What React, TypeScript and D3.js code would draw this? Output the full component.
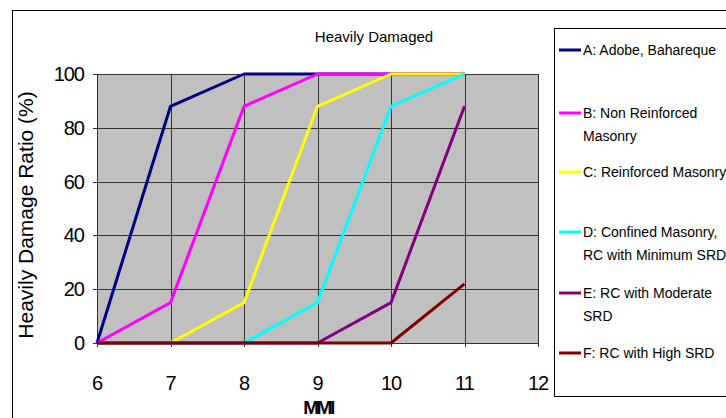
import React, { useEffect, useRef } from 'react';
import * as d3 from 'd3';

const W = 726;
const H = 418;

const mmi = [6, 7, 8, 9, 10, 11];
const xTicks = [6, 7, 8, 9, 10, 11, 12];
const yTicks = [0, 20, 40, 60, 80, 100];

const seriesNames = ['A', 'B', 'C', 'D', 'E', 'F'];
const seriesA = [0, 88, 100, 100, 100, 100];
const seriesB = [0, 15, 88, 100, 100, 100];
const seriesC = [0, 0, 15, 88, 100, 100];
const seriesD = [0, 0, 0, 15, 88, 100];
const seriesE = [0, 0, 0, 0, 15, 88];
const seriesF = [0, 0, 0, 0, 0, 22];
const seriesValues = [seriesA, seriesB, seriesC, seriesD, seriesE, seriesF];
const seriesColors = ['#000080', '#FF00FF', '#FFFF00', '#00FFFF', '#800080', '#800000'];
const legendLabels = [
  ['A: Adobe, Bahareque'],
  ['B: Non Reinforced', 'Masonry'],
  ['C: Reinforced Masonry'],
  ['D: Confined Masonry,', 'RC with Minimum SRD'],
  ['E: RC with Moderate', 'SRD'],
  ['F: RC with High SRD'],
];
const legendY = [50, 113, 172, 232, 293, 353];

const FONT = '"Liberation Sans", Arial, sans-serif';

export default function App() {
  const svgRef = useRef<SVGSVGElement>(null);

  useEffect(() => {
    document.body.style.margin = '0';
    const svg = d3.select(svgRef.current);
    svg.selectAll('*').remove();

    const x = d3.scaleLinear().domain([6, 12]).range([97, 538]);
    const y = d3.scaleLinear().domain([0, 100]).range([343, 74]);

    svg.append('rect').attr('width', W).attr('height', H).attr('fill', '#fff');

    // outer frame
    svg.append('rect')
      .attr('x', 12.5).attr('y', 10.5).attr('width', 760).attr('height', 440)
      .attr('fill', 'none').attr('stroke', '#000').attr('stroke-width', 1);

    // title
    svg.append('text')
      .attr('x', 374).attr('y', 42).attr('text-anchor', 'middle')
      .attr('font-family', FONT).attr('font-size', 15)
      .text('Heavily Damaged');

    // plot area
    svg.append('rect')
      .attr('x', x(6)).attr('y', y(100))
      .attr('width', x(12) - x(6)).attr('height', y(0) - y(100))
      .attr('fill', '#C0C0C0');

    const grid = svg.append('g').attr('stroke', '#333').attr('stroke-width', 1);
    grid.selectAll('line.h').data(yTicks).join('line')
      .attr('x1', x(6) - 4).attr('x2', x(12))
      .attr('y1', d => Math.round(y(d)) + 0.5).attr('y2', d => Math.round(y(d)) + 0.5);
    grid.selectAll('line.v').data(xTicks).join('line')
      .attr('y1', y(100)).attr('y2', y(0) + 4)
      .attr('x1', d => Math.round(x(d)) + 0.5).attr('x2', d => Math.round(x(d)) + 0.5);

    // series
    const line = d3.line<number>()
      .x((_, i) => x(mmi[i]))
      .y(d => y(d));
    svg.append('g').selectAll('path')
      .data(seriesValues)
      .join('path')
      .attr('d', d => line(d))
      .attr('fill', 'none')
      .attr('stroke', (_, i) => seriesColors[i])
      .attr('stroke-width', 3)
      .attr('stroke-linejoin', 'round');

    // y tick labels
    svg.append('g').selectAll('text').data(yTicks).join('text')
      .attr('x', 84).attr('y', d => y(d) + 7)
      .attr('text-anchor', 'end')
      .attr('font-family', FONT).attr('font-size', 20).attr('letter-spacing', -1)
      .text(d => d);

    // x tick labels
    svg.append('g').selectAll('text').data(xTicks).join('text')
      .attr('x', d => x(d)).attr('y', 390)
      .attr('text-anchor', 'middle')
      .attr('font-family', FONT).attr('font-size', 20).attr('letter-spacing', -1)
      .text(d => d);

    // axis titles
    svg.append('text')
      .attr('x', 318).attr('y', 414).attr('text-anchor', 'middle')
      .attr('font-family', FONT).attr('font-size', 19).attr('font-weight', 'bold')
      .attr('letter-spacing', -2.5)
      .text('MMI');

    svg.append('text')
      .attr('transform', 'translate(33,215) rotate(-90)')
      .attr('text-anchor', 'middle')
      .attr('font-family', FONT).attr('font-size', 21)
      .text('Heavily Damage Ratio (%)');

    // legend
    svg.append('rect')
      .attr('x', 554.5).attr('y', 28.5).attr('width', 200).attr('height', 368)
      .attr('fill', '#fff').attr('stroke', '#000').attr('stroke-width', 1);

    const items = svg.append('g').selectAll('g').data(seriesNames).join('g')
      .attr('transform', (_, i) => `translate(0,${legendY[i]})`);
    items.append('line')
      .attr('x1', 559).attr('x2', 581).attr('y1', 0).attr('y2', 0)
      .attr('stroke', (_, i) => seriesColors[i]).attr('stroke-width', 3);
    items.each(function (_, i) {
      const t = d3.select(this).append('text')
        .attr('font-family', FONT).attr('font-size', 14);
      legendLabels[i].forEach((s, k) => {
        t.append('tspan').attr('x', 583).attr('y', 5 + k * 23).text(s);
      });
    });
  }, []);

  return <svg ref={svgRef} width={W} height={H} style={{ display: 'block' }} />;
}
